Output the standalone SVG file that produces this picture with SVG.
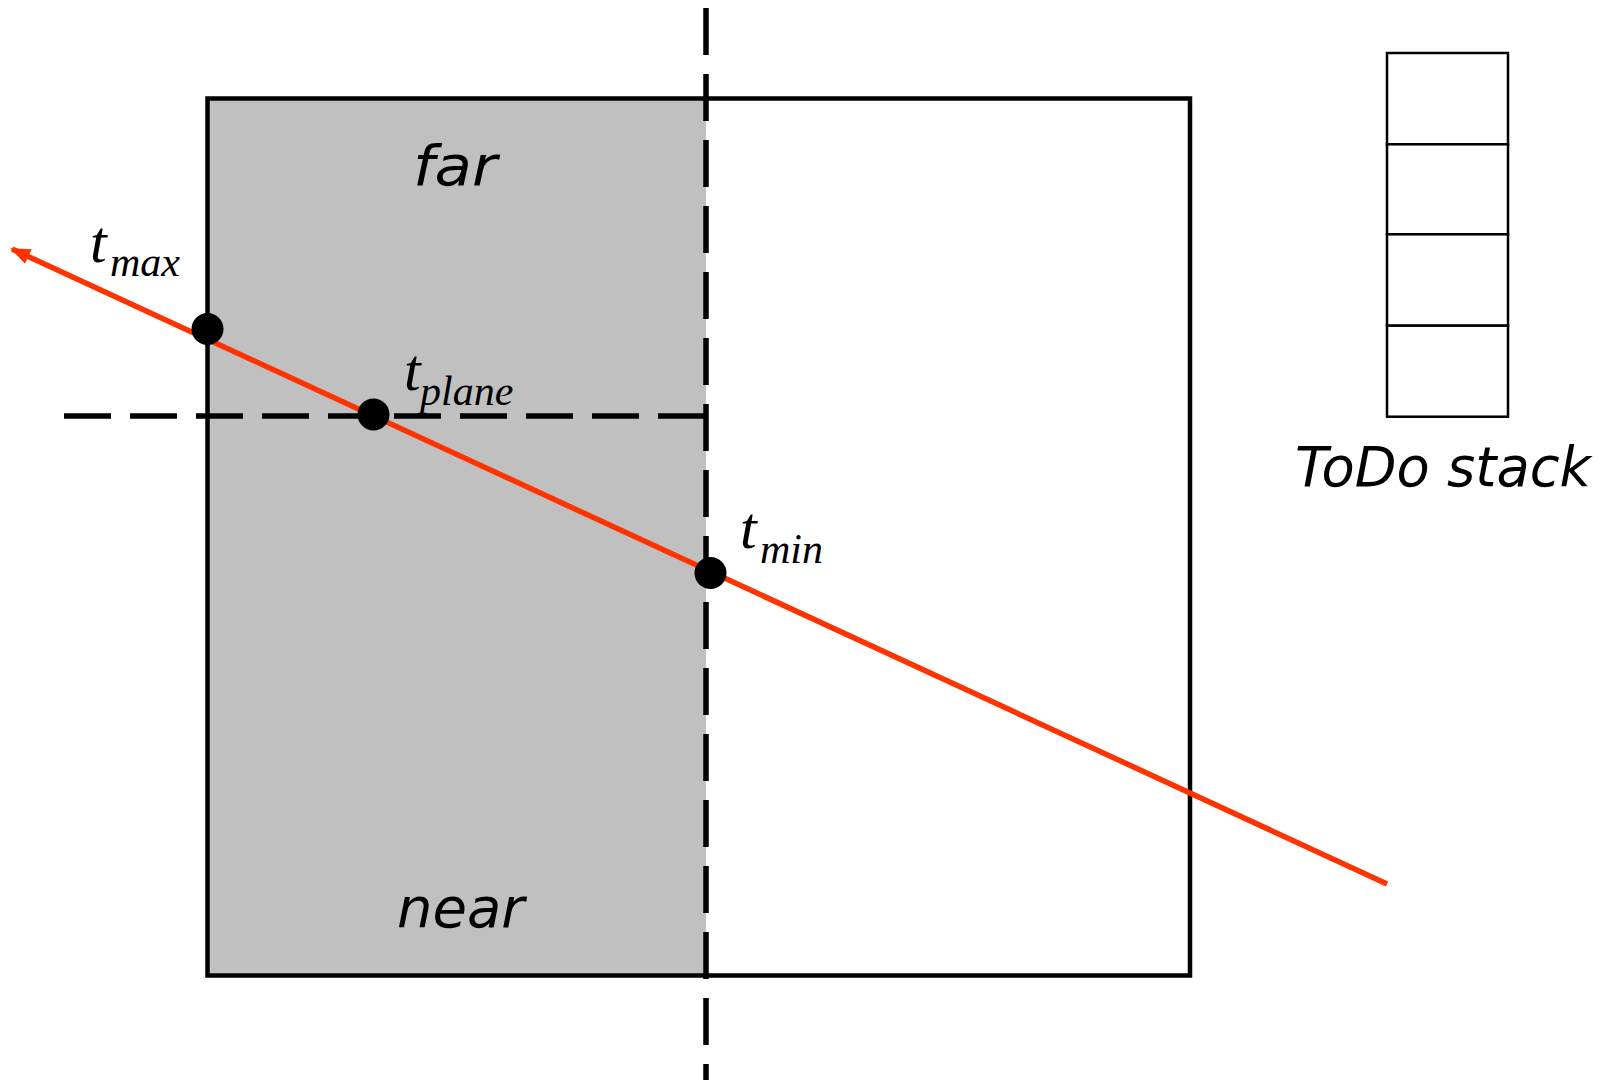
<svg xmlns="http://www.w3.org/2000/svg" width="1609" height="1082" viewBox="0 0 1609 1082">
<style>
.box{fill:none;stroke:#000;stroke-width:4.5}
.dash{fill:none;stroke:#000;stroke-width:5.5;stroke-dasharray:47 19}
.ray{fill:none;stroke:#ff3300;stroke-width:5.5}
.dot{fill:#000}
.cell{fill:#fff;stroke:#000;stroke-width:2.5}
.t{font-family:"Liberation Serif","Times New Roman",serif;font-style:italic;font-size:60px;fill:#000}
.sub{font-size:42px}
.lbl{font-family:"DejaVu Sans","Verdana",sans-serif;font-style:oblique;font-size:56px;fill:#000}
</style>
<defs>
<marker id="arrow" viewBox="0 0 20 16" refX="18" refY="8" markerUnits="userSpaceOnUse" markerWidth="22" markerHeight="16" orient="auto">
<path d="M0,0 L20,8 L0,16 Z" fill="#ff3300"/>
</marker>
</defs>
<g id="cell-box">
<rect x="207.5" y="98.5" width="498.5" height="877" fill="#c0c0c0"/>
<rect class="box" x="207.5" y="98.5" width="982.5" height="877"/>
</g>
<g id="split-lines">
<line class="dash" x1="706" y1="8" x2="706" y2="1080"/>
<line class="dash" x1="64" y1="416" x2="705" y2="416"/>
</g>
<g id="connectors">
<line class="ray" x1="1387" y1="884" x2="12" y2="249" marker-end="url(#arrow)"/>
</g>
<g id="tmax">
<circle class="dot" cx="207.5" cy="329" r="16"/>
<text class="t" x="90" y="262">t</text>
<text class="t sub" x="110" y="276">max</text>
</g>
<g id="tplane">
<circle class="dot" cx="373.5" cy="414.5" r="16"/>
<text class="t" x="404" y="390">t</text>
<text class="t sub" x="420" y="405">plane</text>
</g>
<g id="tmin">
<circle class="dot" cx="710.5" cy="573" r="16"/>
<text class="t" x="740" y="548">t</text>
<text class="t sub" x="760" y="563">min</text>
</g>
<g id="far">
<text class="lbl" x="413" y="185" textLength="84" lengthAdjust="spacingAndGlyphs">far</text>
</g>
<g id="near">
<text class="lbl" x="397" y="927">near</text>
</g>
<g id="todo-stack">
<rect class="cell" x="1387" y="53" width="121" height="91.3"/>
<rect class="cell" x="1387" y="144.3" width="121" height="90"/>
<rect class="cell" x="1387" y="234.3" width="121" height="91.4"/>
<rect class="cell" x="1387" y="325.7" width="121" height="91"/>
<text class="lbl" x="1295" y="486" font-size="58" textLength="296" lengthAdjust="spacingAndGlyphs">ToDo stack</text>
</g>
</svg>
